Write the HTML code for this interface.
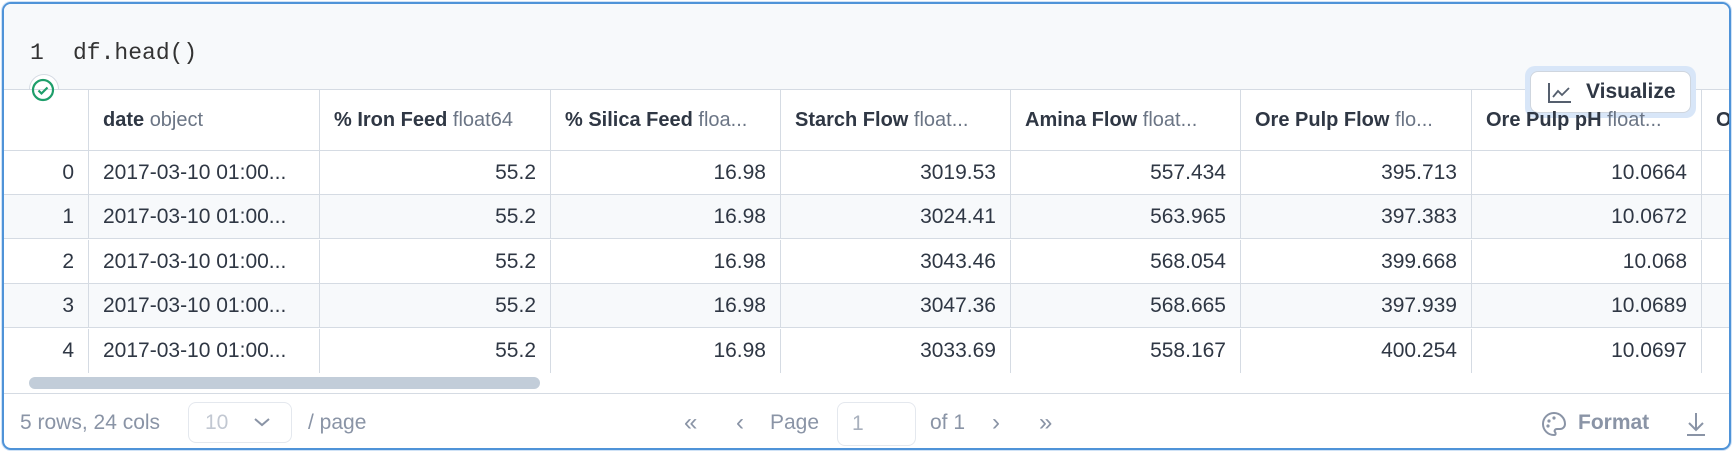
<!DOCTYPE html>
<html><head><meta charset="utf-8"><style>
*{box-sizing:border-box;margin:0;padding:0}
body{width:1733px;height:452px;background:#fff;font-family:"Liberation Sans",sans-serif;position:relative;overflow:hidden}
#card{position:absolute;left:2px;top:2px;width:1729px;height:448px;border:2px solid #4f93d8;border-radius:9px;overflow:hidden;background:#fff;box-shadow:0 0 0 1px #cfe2f6}
#code{position:absolute;left:0;top:0;width:100%;height:86px;background:#f7f9fb;border-bottom:1px solid #d5dbe3}
.abs{position:absolute}
.cell{position:absolute;height:44px;line-height:44px;font-size:21px;color:#2f3744;padding:0 14px;white-space:nowrap;overflow:hidden;border-right:1px solid #d5dbe3}
.hd{font-weight:bold;color:#2f3744;height:61px;line-height:61px;font-size:20px}
.hd span{font-weight:normal;color:#6b7585}
.r{text-align:right}
.row{position:absolute;left:0;width:100%;height:44px;border-bottom:1px solid #d5dbe3}
.ft{position:absolute;top:404px;font-size:21px;color:#8a94a6;line-height:30px}
</style></head><body>
<div id="card">
 <div id="code">
  <div class="abs" style="left:26px;top:36px;font-family:'Liberation Mono',monospace;font-size:23px;color:#333">1</div>
  <div class="abs" style="left:69px;top:36px;font-family:'Liberation Mono',monospace;font-size:23px;color:#333">df.head()</div>
 </div>
 <div id="table"></div>
 <div class="abs" style="left:25px;top:70px;width:30px;height:30px;border-radius:50%;background:#fff;border:1px solid #d5dbe3;clip-path:inset(0 0 50% 0)"></div>
 <svg class="abs" style="left:26px;top:73px" width="26" height="26"><circle cx="13" cy="13" r="10" fill="none" stroke="#1e9e6a" stroke-width="2.2"/><path d="M8.5 13.5l3 3 6-6" fill="none" stroke="#1e9e6a" stroke-width="2.2"/></svg>
 <div class="abs" style="left:1521px;top:62px;width:171px;height:52px;border-radius:10px;background:#d8e6f8"></div>
 <div class="abs" style="left:1526px;top:67px;width:161px;height:42px;border-radius:8px;background:#fff;border:1px solid #cfd6df;font-weight:bold;font-size:21px;color:#2f3744;line-height:40px;padding-left:55px">Visualize
  <svg class="abs" style="left:16px;top:9px" width="26" height="24"><path d="M2 2v19h22" fill="none" stroke="#555f6e" stroke-width="2"/><path d="M6 16l5-6 4 4 7-7" fill="none" stroke="#555f6e" stroke-width="1.8"/></svg>
 </div>
 <div class="abs" style="left:0;top:370px;width:100%;height:20px;border-bottom:1px solid #d5dbe3">
  <div class="abs" style="left:25px;top:3px;width:511px;height:12px;border-radius:6px;background:#c2cdd9"></div>
 </div>
 <div class="ft" style="left:16px">5 rows, 24 cols</div>
 <div class="abs" style="left:184px;top:398px;width:104px;height:41px;border:1px solid #e4e8ee;border-radius:8px;font-size:21px;color:#c2c8d2;line-height:39px;padding-left:16px">10<svg class="abs" style="left:64px;top:13px" width="18" height="12"><path d="M2 3l7 6 7-6" fill="none" stroke="#8a94a6" stroke-width="2"/></svg></div>
 <div class="ft" style="left:304px">/ page</div>
 <div class="ft" style="left:680px;font-size:24px">«</div>
 <div class="ft" style="left:732px;font-size:24px">‹</div>
 <div class="ft" style="left:766px">Page</div>
 <div class="abs" style="left:833px;top:398px;width:79px;height:44px;border:1px solid #e4e8ee;border-radius:8px;font-size:21px;color:#a8b0bd;line-height:42px;padding-left:14px">1</div>
 <div class="ft" style="left:926px">of 1</div>
 <div class="ft" style="left:988px;font-size:24px">›</div>
 <div class="ft" style="left:1035px;font-size:24px">»</div>
 <svg class="abs" style="left:1536px;top:406px" width="28" height="28"><path d="M14 3a11 11 0 1 0 0 22c2 0 2-2 1-3s0-3 2-3h3a5 5 0 0 0 5-5C25 8 20 3 14 3z" fill="none" stroke="#8a94a6" stroke-width="2"/><circle cx="9" cy="11" r="1.6" fill="#8a94a6"/><circle cx="14" cy="8" r="1.6" fill="#8a94a6"/><circle cx="8" cy="16" r="1.6" fill="#8a94a6"/></svg>
 <div class="ft" style="left:1574px;font-weight:bold">Format</div>
 <svg class="abs" style="left:1680px;top:406px" width="24" height="28"><path d="M12 3v17M5 13l7 7 7-7M3 25h18" fill="none" stroke="#8a94a6" stroke-width="2"/></svg>
</div>
<script>
const headers=[["date","object"],["% Iron Feed","float64"],["% Silica Feed","floa..."],["Starch Flow","float..."],["Amina Flow","float..."],["Ore Pulp Flow","flo..."],["Ore Pulp pH","float..."],["O",""]];
const rows=[["2017-03-10 01:00...","55.2","16.98","3019.53","557.434","395.713","10.0664"],
["2017-03-10 01:00...","55.2","16.98","3024.41","563.965","397.383","10.0672"],
["2017-03-10 01:00...","55.2","16.98","3043.46","568.054","399.668","10.068"],
["2017-03-10 01:00...","55.2","16.98","3047.36","568.665","397.939","10.0689"],
["2017-03-10 01:00...","55.2","16.98","3033.69","558.167","400.254","10.0697"]];
const card=document.getElementById('card');
const colX=[0,85,316,547,777,1007,1237,1468,1698];
const hdr=document.createElement('div');
hdr.className='row';hdr.style.top='86px';hdr.style.height='61px';


card.appendChild(hdr);
for(let c=0;c<=headers.length;c++){
 const d=document.createElement('div');
 d.className='cell hd';d.style.left=colX[c]+'px';d.style.top='0';d.style.width=((colX[c+1]||1760)-colX[c])+'px';
 if(c>0){d.innerHTML=headers[c-1][0]+' <span>'+headers[c-1][1]+'</span>';}
 
 
 hdr.appendChild(d);
}
rows.forEach((r,i)=>{
 const rw=document.createElement('div');
 rw.className='row';rw.style.top=(147+i*44.4)+'px';
 if(i%2===1)rw.style.background='#f7f9fb';
 if(i===4)rw.style.borderBottom='none';
 
 
 card.appendChild(rw);
 const cells=[String(i)].concat(r).concat(['']);
 cells.forEach((t,c)=>{
  const d=document.createElement('div');
  d.className='cell'+(c===1?'':' r');
  d.style.left=colX[c]+'px';d.style.top='0';d.style.width=((colX[c+1]||1760)-colX[c])+'px';
  d.textContent=t;
  
  
  rw.appendChild(d);
 });
});
</script>
</body></html>
